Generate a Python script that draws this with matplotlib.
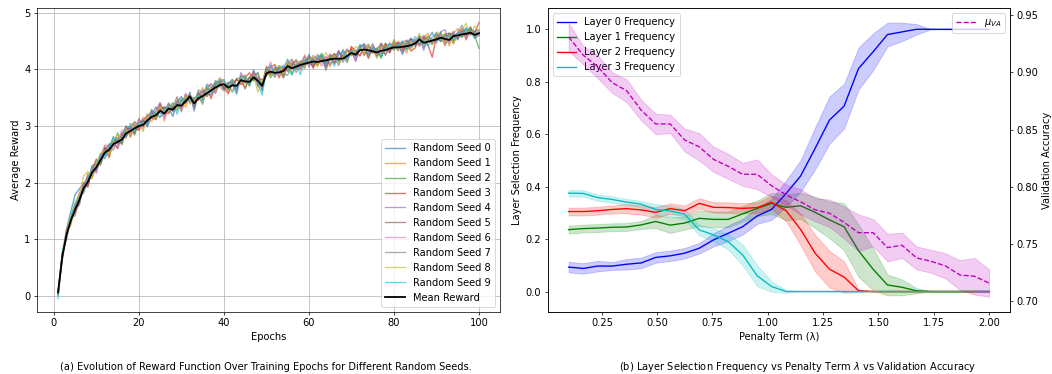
"""
Reward curves over epochs + layer selection vs penalty term
"""

import numpy as np
import matplotlib.pyplot as plt

plt.rcParams["font.size"] = 11


#   left panel: mean reward per epoch
epochs = list(range(1, 101))
mean_reward = [
    0.06, 0.70, 1.08, 1.33, 1.52, 1.69, 1.90, 2.01, 2.18, 2.27,
    2.40, 2.53, 2.58, 2.68, 2.72, 2.76, 2.87, 2.91, 2.96, 3.00,
    3.02, 3.10, 3.16, 3.19, 3.27, 3.22, 3.31, 3.29, 3.37, 3.36,
    3.44, 3.52, 3.40, 3.49, 3.53, 3.58, 3.63, 3.68, 3.72, 3.74,
    3.68, 3.72, 3.71, 3.81, 3.79, 3.78, 3.86, 3.80, 3.71, 3.93,
    3.96, 3.94, 3.95, 3.97, 4.06, 4.02, 4.05, 4.08, 4.10, 4.12,
    4.14, 4.13, 4.15, 4.16, 4.18, 4.19, 4.19, 4.19, 4.24, 4.29,
    4.26, 4.34, 4.35, 4.34, 4.32, 4.30, 4.33, 4.34, 4.37, 4.39,
    4.39, 4.40, 4.41, 4.43, 4.46, 4.53, 4.47, 4.49, 4.51, 4.53,
    4.56, 4.54, 4.52, 4.59, 4.60, 4.62, 4.63, 4.65, 4.61, 4.64,
]

#   each seed's offset from the mean, in units of 1/75
seed0_dev = [
    -3, 4, 8, 12, 20, 15, 6, -4, 3, -6,
    5, -8, 2, 10, -3, 7, -5, 4, 9, -2,
    6, -7, 3, 11, -4, 8, 1, -9, 5, 12,
    -3, 6, -10, 4, 8, -2, -6, 9, 3, -5,
    7, 2, -11, 6, 4, -3, 10, -7, 5, 1,
    -4, 8, -6, 3, 9, -8, 2, 5, -3, 11,
    -5, 4, 7, -9, 2, 6, -4, 12, -2, 5,
    -7, 3, 8, -5, 10, -1, -8, 4, 7, -3,
    6, -10, 2, 9, -4, 5, -6, 3, 11, -2,
    7, -9, 4, 6, -5, 2, 8, -3, 5, 4,
]
seed1_dev = [
    0, -5, 3, -6, 2, 10, -4, 12, -8, 5,
    -2, 9, -11, 4, 6, -7, 3, -3, 8, -5,
    10, 2, -6, 4, 9, -10, 5, 3, -4, 7,
    -8, 2, 6, -3, 11, -5, 4, -7, 9, 1,
    -6, 3, 8, -2, -9, 5, 7, -4, 2, 10,
    -3, 6, -8, 4, -5, 9, 1, -7, 12, -2,
    5, -4, 8, 3, -10, 6, -1, 4, -6, 9,
    2, -8, 5, 7, -3, 4, 10, -6, 2, -4,
    8, 3, -9, 5, 1, -7, 6, 11, -5, 3,
    -2, 7, -8, 4, 9, -4, 2, 6, -3, 1,
]
seed2_dev = [
    -2, 3, -4, 5, -8, 6, 2, -5, 9, 4,
    -7, 3, 8, -2, 12, -6, 4, 7, -9, 3,
    5, -4, 10, -6, 2, 8, -3, 4, -7, 9,
    1, -5, 6, 3, -11, 7, -2, 5, 8, -6,
    4, -9, 10, 2, -3, 6, -5, 11, -1, 4,
    -8, 3, 7, -4, -12, 5, 9, -3, 6, 1,
    -7, 4, 10, -5, 2, -6, 8, 3, -9, 5,
    -2, 7, 4, -8, 1, 6, -10, 9, -3, 4,
    2, -6, 8, -4, 5, -9, 3, 7, -2, 1,
    -5, 6, 9, -7, 3, -4, 5, 2, -1, -20,
]
seed3_dev = [
    1, -2, 6, 2, -4, -3, 8, -7, 4, 11,
    -5, 7, -3, 2, -9, 5, 10, -8, 3, -6,
    4, 8, -2, -5, 9, 3, -7, 6, 2, -4,
    10, -8, 5, -2, 4, 7, -11, 3, 6, -5,
    -8, 2, 9, -6, 5, 12, -3, 4, 8, -4,
    6, 11, -2, 5, -7, 3, 8, -5, 2, 6,
    -9, 4, 1, -3, 7, -6, 10, 2, -4, 8,
    5, -7, 3, -11, 6, 2, -4, 9, -5, 3,
    7, -3, 4, -8, -6, 2, 8, -4, -22, 5,
    3, -6, 9, 2, -4, 7, -8, 5, 3, 14,
]
seed4_dev = [
    -1, 2, -3, 4, 6, -5, 3, 9, -6, 2,
    8, -4, 5, 3, -7, 10, -2, 6, -5, 4,
    8, -9, 2, 6, 11, -4, 7, -3, 5, 1,
    8, -6, 3, 9, -4, 12, 5, -8, 2, 6,
    -3, 4, -7, 10, 2, -5, 8, 3, -6, 4,
    9, -2, 5, -8, 3, 7, -4, 2, 10, -6,
    4, 8, -3, 5, -7, 2, 11, -5, 6, 3,
    -9, 4, 7, -2, 5, -6, 10, 3, -4, 8,
    2, -7, 5, 9, -3, 4, -10, 6, 2, -5,
    8, 12, -4, 3, -6, 7, 1, -3, 5, -2,
]
seed5_dev = [
    2, -4, 5, -2, 7, 4, -6, 3, 8, -5,
    2, 6, -9, 4, 3, -5, 8, 2, -7, 10,
    -3, 5, 6, -4, 2, 9, -6, 3, 11, -8,
    4, 2, -5, 7, -3, 6, 9, -4, 3, -7,
    5, 8, -2, 4, -10, 6, 3, -5, 2, 8,
    -4, 5, 7, -9, 3, 12, -2, 4, -6, 8,
    3, -5, 6, -13, 2, 7, -4, 5, 9, -3,
    1, 6, -8, 4, 2, -5, 7, 3, -6, 10,
    -2, 5, -4, 8, 3, -7, 6, 2, -3, 9,
    -5, 4, 7, -10, 3, 5, -2, 8, -4, -3,
]
seed6_dev = [
    -1, 5, -2, 3, -5, 8, 4, -3, 7, -8,
    6, 10, 5, -4, 2, 12, 6, -5, 3, 8,
    -6, 4, 9, -3, 5, -7, 2, 6, 3, -5,
    9, -4, 7, 2, -8, 5, 3, -6, 10, 2,
    -4, 7, -5, 3, 8, -2, 6, -9, 4, 1,
    13, -5, 3, 7, -4, 2, 9, -6, 5, -3,
    8, 4, -7, 2, 6, -3, 5, 10, -5, 3,
    -8, 6, 2, -4, 9, -2, 4, -6, 7, 3,
    -5, 8, 1, -3, 6, -8, 4, 2, -5, 7,
    3, -9, 6, -2, 4, 8, -6, 3, -4, 5,
]
seed7_dev = [
    -4, 2, -5, 4, 3, -7, 5, 6, -3, 9,
    -4, 2, 7, -8, 5, 3, -6, 10, 4, -2,
    6, -5, 8, 2, -9, 4, 7, -2, 5, 8,
    -3, 2, -6, 11, 5, -4, 3, 7, -2, -9,
    4, 6, -5, 2, 8, -3, 5, 10, -7, 3,
    2, -6, 9, 4, -3, 6, -8, 5, 2, 7,
    -4, 10, 3, -6, 5, 2, -9, 4, 7, -3,
    6, 2, -5, 8, -2, 4, 9, -7, 3, 5,
    -4, 6, 8, -2, 3, -6, 10, 4, -5, 2,
    7, -3, 9, -6, 4, 12, -4, 6, 2, -1,
]
seed8_dev = [
    -3, 1, 4, 6, 10, 8, 16, 14, -8, 5,
    9, 2, -5, 4, 10, -3, 6, -7, 2, 5,
    -9, 8, 3, -4, 6, 2, -5, 9, -3, 4,
    7, -10, 5, 3, -6, 8, 2, -4, 9, 5,
    -3, 6, -2, 4, 8, -6, 3, -15, 7, 2,
    -5, 4, 9, -3, 6, -8, 3, 5, -4, 2,
    8, -6, 4, 10, -2, 5, -7, 3, 6, -4,
    11, 2, -5, 7, 3, -8, 4, 6, -2, 9,
    -4, 3, 5, -7, 2, 8, -3, 6, -5, 10,
    4, -8, 7, -10, 3, 6, 14, -4, 12, 2,
]
seed9_dev = [
    -8, 6, -3, 5, 8, 4, -5, 3, 6, -2,
    8, -5, 3, 7, 4, -4, 9, 6, -3, 5,
    2, -6, 7, 3, -8, 4, 2, 9, -12, 6,
    3, -5, 8, 2, -6, 11, -4, 3, 5, 6,
    -2, 7, -4, 3, 6, -5, 2, -3, -12, 4,
    8, -2, 5, 7, -3, -9, 4, -13, 3, 6,
    -2, 5, 8, -4, 2, -10, 6, 9, -5, 3,
    -2, 7, 4, -6, 5, 3, -8, 2, 6, -3,
    4, 7, -5, 2, 9, -4, 3, -6, 5, 8,
    -3, 2, 6, -5, 4, -2, 7, 3, -5, 1,
]
seed_devs = [seed0_dev, seed1_dev, seed2_dev, seed3_dev, seed4_dev,
             seed5_dev, seed6_dev, seed7_dev, seed8_dev, seed9_dev]


#   right panel: penalty sweep
penalty = [0.100, 0.166, 0.231, 0.297, 0.362, 0.428, 0.493, 0.559, 0.624, 0.690,
           0.755, 0.821, 0.886, 0.952, 1.017, 1.083, 1.148, 1.214, 1.279, 1.345,
           1.410, 1.476, 1.541, 1.607, 1.672, 1.738, 1.803, 1.869, 1.934, 2.000]

layer0 = [0.093, 0.088, 0.097, 0.097, 0.104, 0.109, 0.130, 0.136, 0.146, 0.165,
          0.197, 0.222, 0.247, 0.288, 0.313, 0.374, 0.440, 0.546, 0.654, 0.707,
          0.850, 0.914, 0.980, 0.990, 1.000, 1.000, 1.000, 1.000, 1.000, 1.000]
layer0_sd = [0.020, 0.020, 0.020, 0.015, 0.020, 0.020, 0.020, 0.020, 0.020, 0.020,
             0.025, 0.030, 0.030, 0.030, 0.040, 0.050, 0.060, 0.080, 0.090, 0.085,
             0.080, 0.070, 0.045, 0.035, 0.020, 0.0, 0.0, 0.0, 0.0, 0.0]

layer1 = [0.236, 0.240, 0.242, 0.245, 0.246, 0.254, 0.267, 0.253, 0.261, 0.279,
          0.275, 0.275, 0.296, 0.317, 0.336, 0.321, 0.327, 0.302, 0.273, 0.247,
          0.156, 0.085, 0.025, 0.016, 0.003, 0.0, 0.0, 0.0, 0.0, 0.0]
layer1_sd = [0.015, 0.015, 0.015, 0.015, 0.015, 0.015, 0.025, 0.030, 0.025, 0.030,
             0.030, 0.030, 0.030, 0.030, 0.040, 0.050, 0.050, 0.060, 0.070, 0.090,
             0.100, 0.080, 0.040, 0.030, 0.010, 0.0, 0.0, 0.0, 0.0, 0.0]

layer2 = [0.305, 0.305, 0.308, 0.313, 0.316, 0.311, 0.302, 0.316, 0.308, 0.336,
          0.321, 0.320, 0.317, 0.320, 0.340, 0.308, 0.237, 0.146, 0.085, 0.055,
          0.003, 0.0, 0.0, 0.0, 0.0, 0.0, 0.0, 0.0, 0.0, 0.0]
layer2_sd = [0.015, 0.015, 0.015, 0.015, 0.018, 0.018, 0.020, 0.020, 0.020, 0.020,
             0.020, 0.020, 0.020, 0.020, 0.025, 0.040, 0.060, 0.070, 0.070, 0.060,
             0.005, 0.0, 0.0, 0.0, 0.0, 0.0, 0.0, 0.0, 0.0, 0.0]

layer3 = [0.375, 0.374, 0.358, 0.351, 0.341, 0.333, 0.313, 0.307, 0.295, 0.235,
          0.216, 0.190, 0.140, 0.060, 0.019, 0.0, 0.0, 0.0, 0.0, 0.0,
          0.0, 0.0, 0.0, 0.0, 0.0, 0.0, 0.0, 0.0, 0.0, 0.0]
layer3_sd = [0.012, 0.012, 0.012, 0.012, 0.012, 0.012, 0.020, 0.020, 0.020, 0.020,
             0.025, 0.030, 0.040, 0.040, 0.020, 0.005, 0.0, 0.0, 0.0, 0.0,
             0.0, 0.0, 0.0, 0.0, 0.0, 0.0, 0.0, 0.0, 0.0, 0.0]

val_acc = [0.931, 0.915, 0.905, 0.891, 0.884, 0.867, 0.855, 0.855, 0.841, 0.835,
           0.824, 0.818, 0.811, 0.811, 0.801, 0.793, 0.787, 0.780, 0.777, 0.769,
           0.760, 0.760, 0.747, 0.749, 0.738, 0.735, 0.731, 0.723, 0.722, 0.716]
val_acc_sd = [0.012, 0.008, 0.010, 0.009, 0.010, 0.009, 0.009, 0.008, 0.010, 0.012,
              0.011, 0.011, 0.010, 0.013, 0.010, 0.009, 0.011, 0.010, 0.012, 0.014,
              0.016, 0.012, 0.012, 0.011, 0.010, 0.010, 0.011, 0.013, 0.016, 0.012]

layers = [layer0, layer1, layer2, layer3]
layer_sds = [layer0_sd, layer1_sd, layer2_sd, layer3_sd]
layer_colors = ["b", "g", "r", "c"]


fig = plt.figure(figsize=(1052 / 65, 374 / 65), dpi=65)

#   (a) reward over epochs
ax = fig.add_axes([0.0352, 0.1666, 0.4401, 0.8112])
mean = np.array(mean_reward)
for k, dev in enumerate(seed_devs):
    ax.plot(epochs, mean + np.array(dev) / 75, color=f"C{k}", alpha=0.65,
            lw=1.5, label=f"Random Seed {k}")
ax.plot(epochs, mean, color="black", lw=2, label="Mean Reward")
ax.set_xlim(-3.95, 104.95)
ax.set_ylim(-0.28, 5.08)
ax.set_xlabel("Epochs")
ax.set_ylabel("Average Reward")
ax.grid(True)
ax.legend(loc="lower right")

#   (b) layer frequency + validation accuracy on a twin axis
ax1 = fig.add_axes([0.5206, 0.1666, 0.4395, 0.8112])
x = np.array(penalty)
for i, (f, s, c) in enumerate(zip(layers, layer_sds, layer_colors)):
    f, s = np.array(f), np.array(s)
    ax1.plot(x, f, color=c, label=f"Layer {i} Frequency")
    ax1.fill_between(x, f - s, f + s, color=c, alpha=0.2)
ax1.set_xlim(0.005, 2.095)
ax1.set_ylim(-0.077, 1.08)
ax1.set_xticks([0.25, 0.5, 0.75, 1.0, 1.25, 1.5, 1.75, 2.0])
ax1.set_xlabel("Penalty Term (λ)")
ax1.set_ylabel("Layer Selection Frequency")
ax1.legend(loc="upper left")

ax2 = ax1.twinx()
acc, acc_sd = np.array(val_acc), np.array(val_acc_sd)
ax2.plot(x, acc, "m--", label=r"$\mu_{VA}$")
ax2.fill_between(x, acc - acc_sd, acc + acc_sd, color="m", alpha=0.2)
ax2.set_ylim(0.691, 0.956)
ax2.set_ylabel("Validation Accuracy")
ax2.legend(loc="upper right")

#   sub-figure captions
fig.text(0.253, 0.019, "(a) Evolution of Reward Function Over Training Epochs "
         "for Different Random Seeds.", ha="center", va="center")
fig.text(0.758, 0.019, r"(b) Layer Selection Frequency vs Penalty Term $\lambda$ "
         "vs Validation Accuracy", ha="center", va="center")

fig.savefig("out.png", dpi=65)
